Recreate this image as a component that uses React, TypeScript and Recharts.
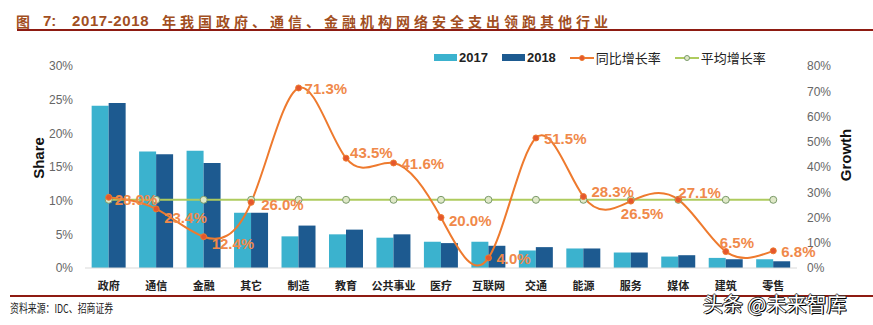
import {
  Bar,
  ComposedChart,
  LabelList,
  Legend,
  Line,
  XAxis,
  YAxis
} from "recharts";

const categories = ["政府", "通信", "金融", "其它", "制造", "教育", "公共事业", "医疗", "互联网", "交通", "能源", "服务", "媒体", "建筑", "零售"];
const share2017 = [24.1, 17.3, 17.4, 8.2, 4.7, 5.0, 4.5, 3.9, 3.9, 2.6, 2.9, 2.3, 1.7, 1.5, 1.3];
const share2018 = [24.5, 16.9, 15.6, 8.2, 6.3, 5.7, 5.0, 3.7, 3.3, 3.1, 2.9, 2.3, 1.9, 1.3, 1.0];
const yoyGrowth = [28.0, 23.4, 12.4, 26.0, 71.3, 43.5, 41.6, 20.0, 4.0, 51.5, 28.3, 26.5, 27.1, 6.5, 6.8];
const avgGrowth = 27.0;
const shareTicks = [0, 5, 10, 15, 20, 25, 30];
const growthTicks = [0, 10, 20, 30, 40, 50, 60, 70, 80];

// label nudges (dx, dy) so the growth labels sit like the original
const labelShift: [number, number][] = [
  [6, 2], [8, 8], [8, 6], [10, 2], [6, 0], [4, -6], [8, 0], [8, 2],
  [8, 0], [8, 0], [8, -6], [-10, 12], [0, -8], [-6, -10], [8, 0]
];

const data = categories.map((name, i) => ({
  name,
  s2017: share2017[i],
  s2018: share2018[i],
  yoy: yoyGrowth[i],
  avg: avgGrowth
}));

const font = "'Liberation Sans', Arial, 'Noto Sans CJK SC', sans-serif";
const cjk = "'Noto Sans CJK SC', sans-serif";
const c2017 = "#3BB2CE";
const c2018 = "#1D5A90";
const orange = "#EE7A2E";
const green = "#AECB5E";
const titleColor = "#A24F1F";

function GrowthLabel(props: any) {
  const { x, y, index, value } = props;
  const [dx, dy] = labelShift[index] || [8, 0];
  return (
    <text x={x + dx} y={y + dy + 6} fill="#F0894A" fontSize={15} fontWeight="bold" fontFamily={font}>
      {value.toFixed(1)}%
    </text>
  );
}

function LegendBox() {
  const item = { display: "flex", alignItems: "center", marginRight: 14 } as const;
  return (
    <div style={{ display: "flex", fontFamily: font, fontSize: 13, color: "#222" }}>
      <div style={item}>
        <span style={{ width: 23, height: 7, background: c2017, display: "inline-block", marginRight: 2 }} />
        <b>2017</b>
      </div>
      <div style={item}>
        <span style={{ width: 23, height: 7, background: c2018, display: "inline-block", marginRight: 2 }} />
        <b>2018</b>
      </div>
      <div style={item}>
        <svg width={24} height={8} style={{ marginRight: 2 }}>
          <line x1={0} y1={4} x2={24} y2={4} stroke={orange} strokeWidth={2} />
          <circle cx={12} cy={4} r={2.5} fill="#E4572E" stroke={orange} />
        </svg>
        <span style={{ fontFamily: cjk }}>同比增长率</span>
      </div>
      <div style={item}>
        <svg width={24} height={8} style={{ marginRight: 2 }}>
          <line x1={0} y1={4} x2={24} y2={4} stroke={green} strokeWidth={2} />
          <circle cx={12} cy={4} r={2.5} fill="#dfe8c8" stroke="#7a9a6a" />
        </svg>
        <span style={{ fontFamily: cjk }}>平均增长率</span>
      </div>
    </div>
  );
}

export default function App() {
  const titleBase = { position: "absolute", top: 11, fontWeight: "bold", fontSize: 14, lineHeight: "20px", color: titleColor, whiteSpace: "nowrap" } as const;
  return (
    <div style={{ position: "absolute", left: 0, top: 0, width: 873, height: 325, background: "#fff", overflow: "hidden" }}>
      <div style={{ ...titleBase, left: 16, fontFamily: cjk }}>图</div>
      <div style={{ ...titleBase, left: 43, fontFamily: font, fontSize: 15 }}>7:</div>
      <div style={{ ...titleBase, left: 72, fontFamily: font, fontSize: 15, letterSpacing: 0.6 }}>2017-2018</div>
      <div style={{ ...titleBase, left: 162, fontFamily: cjk, letterSpacing: 4 }}>
        年我国政府、通信、金融机构网络安全支出领跑其他行业
      </div>
      <div style={{ position: "absolute", left: 17, top: 29, width: 856, height: 2, background: "#8E1B12" }} />

      <ComposedChart
        width={873}
        height={325}
        data={data}
        margin={{ top: 47, right: 16, bottom: 27, left: 35 }}
        barGap={0}
        barCategoryGap="14%"
        style={{ position: "absolute", left: 0, top: 0 }}
      >
        <XAxis
          dataKey="name"
          interval={0}
          tickLine={false}
          axisLine={{ stroke: "#D9D9D9" }}
          tick={{ fill: "#222", fontSize: 11, fontFamily: cjk, fontWeight: "bold" }}
          tickMargin={8}
          height={30}
        />
        <YAxis
          yAxisId="left"
          domain={[0, 30]}
          ticks={shareTicks}
          tickFormatter={(v) => `${v}%`}
          axisLine={false}
          tickLine={false}
          width={50}
          tickMargin={6}
          tick={{ fill: "#666", fontSize: 12, fontFamily: font }}
        />
        <YAxis
          yAxisId="right"
          orientation="right"
          domain={[0, 80]}
          ticks={growthTicks}
          tickFormatter={(v) => `${v}%`}
          axisLine={false}
          tickLine={false}
          width={60}
          tickMargin={4}
          tick={{ fill: "#666", fontSize: 12, fontFamily: font, textAnchor: "start" }}
        />
        <Legend
          verticalAlign="top"
          content={() => <LegendBox />}
          wrapperStyle={{ position: "absolute", top: 48, left: 434, width: "auto" }}
        />
        <Bar yAxisId="left" dataKey="s2017" fill={c2017} isAnimationActive={false} />
        <Bar yAxisId="left" dataKey="s2018" fill={c2018} isAnimationActive={false} />
        <Line
          yAxisId="right"
          dataKey="avg"
          stroke={green}
          strokeWidth={2}
          dot={{ r: 3.5, fill: "#dfe8c8", stroke: "#7a9a6a", strokeWidth: 1 }}
          isAnimationActive={false}
        />
        <Line
          yAxisId="right"
          type="natural"
          dataKey="yoy"
          stroke={orange}
          strokeWidth={2}
          dot={{ r: 3, fill: "#E4572E", stroke: orange, strokeWidth: 1 }}
          isAnimationActive={false}
        >
          <LabelList dataKey="yoy" content={<GrowthLabel />} />
        </Line>
      </ComposedChart>

      <div
        style={{
          position: "absolute",
          left: 38,
          top: 158,
          transform: "translate(-50%, -50%) rotate(-90deg)",
          fontFamily: font,
          fontWeight: "bold",
          fontSize: 15,
          color: "#111"
        }}
      >
        Share
      </div>
      <div
        style={{
          position: "absolute",
          left: 845,
          top: 155,
          transform: "translate(-50%, -50%) rotate(-90deg)",
          fontFamily: font,
          fontWeight: "bold",
          fontSize: 15,
          color: "#111"
        }}
      >
        Growth
      </div>

      <div style={{ position: "absolute", left: 10, top: 295, width: 863, height: 2, background: "#8E1B12" }} />
      <div
        style={{
          position: "absolute",
          left: 10,
          top: 300,
          fontFamily: cjk,
          fontSize: 12,
          lineHeight: "16px",
          color: "#222",
          whiteSpace: "nowrap",
          transform: "scaleX(0.74)",
          transformOrigin: "left center"
        }}
      >
        资料来源：IDC、招商证券
      </div>
      <div
        style={{
          position: "absolute",
          left: 703,
          top: 294,
          fontFamily: cjk,
          fontSize: 20,
          lineHeight: "20px",
          color: "#fff",
          textShadow: "1px 1px 0 #000, -1px 0 0 #333, 0 -1px 0 #333, 1px 0 0 #333",
          whiteSpace: "nowrap"
        }}
      >
        头条 @未来智库
      </div>
    </div>
  );
}
